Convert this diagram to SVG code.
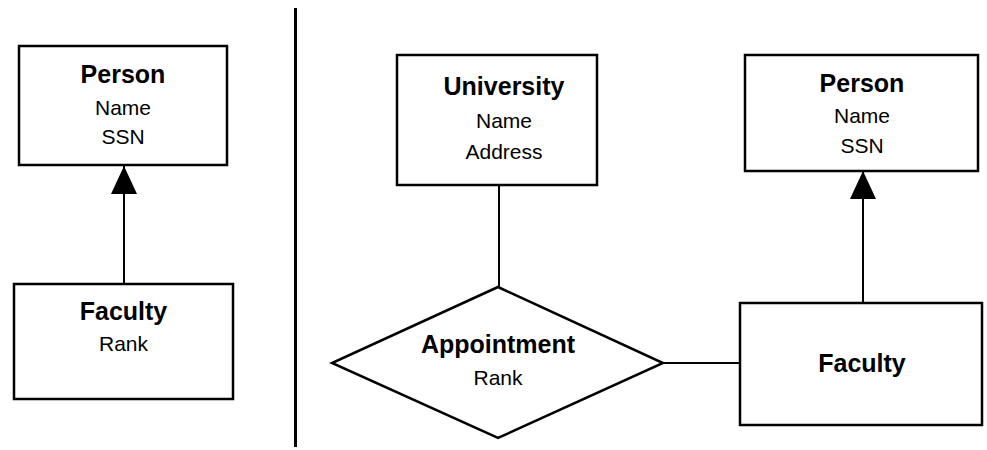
<svg xmlns="http://www.w3.org/2000/svg" width="987" height="450" viewBox="0 0 987 450">
  <style>
    .box { fill: #fff; stroke: #000; stroke-width: 2.5; }
    .edge { fill: none; stroke: #000; stroke-width: 2; }
    .title { font-family: "Liberation Sans", Arial, sans-serif; font-weight: bold; font-size: 25px; text-anchor: middle; fill: #000; }
    .attr { font-family: "Liberation Sans", Arial, sans-serif; font-size: 21px; text-anchor: middle; fill: #000; }
  </style>
  <defs>
    <!-- filled ISA triangle, tip at the end of the path -->
    <marker id="isa" viewBox="0 0 28 26" refX="28" refY="13" markerWidth="28" markerHeight="26" markerUnits="userSpaceOnUse" orient="auto">
      <path d="M0 0 L28 13 L0 26 Z" fill="#000"/>
    </marker>
  </defs>
  <rect width="987" height="450" fill="#fff"/>

  <!-- separator between the two schemas -->
  <line id="divider" x1="295.5" y1="8" x2="295.5" y2="447" stroke="#000" stroke-width="3"/>

  <g id="connectors">
    <!-- Faculty ISA Person (left) -->
    <path class="edge" d="M124 284 V166" marker-end="url(#isa)"/>
    <!-- University – Appointment -->
    <path class="edge" d="M499 185 V287"/>
    <!-- Appointment – Faculty -->
    <path class="edge" d="M663 363 H740"/>
    <!-- Faculty ISA Person (right) -->
    <path class="edge" d="M863 303 V171" marker-end="url(#isa)"/>
  </g>

  <g id="person-left">
    <rect class="box" x="19" y="46" width="208" height="119"/>
    <text class="title" x="123" y="83">Person</text>
    <text class="attr" x="123" y="115">Name</text>
    <text class="attr" x="123" y="144">SSN</text>
  </g>

  <g id="faculty-left">
    <rect class="box" x="14" y="284" width="219" height="115"/>
    <text class="title" x="123.5" y="320">Faculty</text>
    <text class="attr" x="123.5" y="351">Rank</text>
  </g>

  <g id="university">
    <rect class="box" x="397" y="55" width="200" height="130"/>
    <text class="title" x="504" y="95">University</text>
    <text class="attr" x="504" y="128">Name</text>
    <text class="attr" x="504" y="159">Address</text>
  </g>

  <g id="appointment">
    <polygon class="box" points="498,287 663,363 498,438 332,363"/>
    <text class="title" x="498" y="353">Appointment</text>
    <text class="attr" x="498" y="385">Rank</text>
  </g>

  <g id="person-right">
    <rect class="box" x="745" y="55" width="233" height="116"/>
    <text class="title" x="862" y="92">Person</text>
    <text class="attr" x="862" y="123">Name</text>
    <text class="attr" x="862" y="153">SSN</text>
  </g>

  <g id="faculty-right">
    <rect class="box" x="740" y="303" width="242" height="122"/>
    <text class="title" x="862" y="372">Faculty</text>
  </g>
</svg>
